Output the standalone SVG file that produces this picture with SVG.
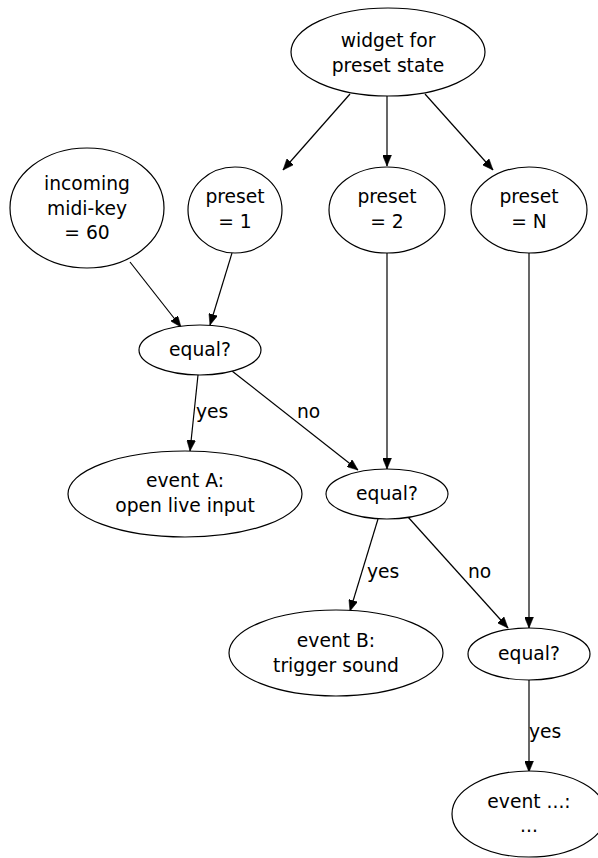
<svg xmlns="http://www.w3.org/2000/svg" width="598" height="858" viewBox="0 0 598 858">
  <style>
    .node ellipse { fill: #ffffff; stroke: #000000; stroke-width: 1.2; }
    .node text, .label { font-family: "DejaVu Sans", "Liberation Sans", sans-serif; font-size: 18.7px; fill: #000000; }
    .node text { text-anchor: middle; }
    .edge { fill: none; stroke: #000000; stroke-width: 1.2; marker-end: url(#arrow); }
  </style>
  <defs>
    <marker id="arrow" markerUnits="userSpaceOnUse" markerWidth="11" markerHeight="9" refX="11" refY="4.5" orient="auto">
      <path d="M0,0 L11,4.5 L0,9 Z" fill="#000000" stroke="#000000" stroke-width="0.5"/>
    </marker>
  </defs>

  <rect width="598" height="858" fill="#ffffff"/>

  <g id="connectors">
    <line class="edge" x1="350" y1="94" x2="283" y2="170"/>
    <line class="edge" x1="387" y1="96" x2="387" y2="166"/>
    <line class="edge" x1="425" y1="94" x2="493" y2="170"/>
    <line class="edge" x1="130" y1="262" x2="181" y2="327"/>
    <line class="edge" x1="232" y1="253" x2="210" y2="325"/>
    <line class="edge" x1="198" y1="375" x2="190" y2="451"/>
    <line class="edge" x1="232" y1="371" x2="358" y2="470"/>
    <line class="edge" x1="387" y1="253" x2="387" y2="469"/>
    <line class="edge" x1="378" y1="519" x2="350" y2="611"/>
    <line class="edge" x1="408" y1="517" x2="508" y2="628"/>
    <line class="edge" x1="529" y1="253" x2="529" y2="628"/>
    <line class="edge" x1="529" y1="680" x2="529" y2="772"/>
    <text class="label" x="196" y="418">yes</text>
    <text class="label" x="297" y="418">no</text>
    <text class="label" x="367" y="578">yes</text>
    <text class="label" x="468" y="578">no</text>
    <text class="label" x="529" y="738">yes</text>
  </g>

  <g id="widget" class="node">
    <ellipse cx="388" cy="52" rx="97" ry="44"/>
    <text x="388" y="47">widget for</text>
    <text x="388" y="72">preset state</text>
  </g>
  <g id="midi_key" class="node">
    <ellipse cx="87" cy="208" rx="77" ry="60"/>
    <text x="87" y="190">incoming</text>
    <text x="87" y="215">midi-key</text>
    <text x="87" y="239">= 60</text>
  </g>
  <g id="preset1" class="node">
    <ellipse cx="235" cy="210" rx="47" ry="43"/>
    <text x="235" y="203">preset</text>
    <text x="235" y="228">= 1</text>
  </g>
  <g id="preset2" class="node">
    <ellipse cx="387" cy="210" rx="58" ry="43"/>
    <text x="387" y="203">preset</text>
    <text x="387" y="228">= 2</text>
  </g>
  <g id="presetN" class="node">
    <ellipse cx="529" cy="210" rx="58" ry="43"/>
    <text x="529" y="203">preset</text>
    <text x="529" y="228">= N</text>
  </g>
  <g id="equal1" class="node">
    <ellipse cx="200" cy="350" rx="61" ry="25"/>
    <text x="200" y="356">equal?</text>
  </g>
  <g id="eventA" class="node">
    <ellipse cx="185" cy="494" rx="117" ry="43"/>
    <text x="185" y="487">event A:</text>
    <text x="185" y="512">open live input</text>
  </g>
  <g id="equal2" class="node">
    <ellipse cx="387" cy="494" rx="61" ry="25"/>
    <text x="387" y="500">equal?</text>
  </g>
  <g id="eventB" class="node">
    <ellipse cx="336" cy="653" rx="107" ry="43"/>
    <text x="336" y="647">event B:</text>
    <text x="336" y="672">trigger sound</text>
  </g>
  <g id="equal3" class="node">
    <ellipse cx="529" cy="654" rx="61" ry="26"/>
    <text x="529" y="660">equal?</text>
  </g>
  <g id="eventN" class="node">
    <ellipse cx="529" cy="814" rx="77" ry="43"/>
    <text x="529" y="808">event ...:</text>
    <text x="529" y="832">...</text>
  </g>
</svg>
